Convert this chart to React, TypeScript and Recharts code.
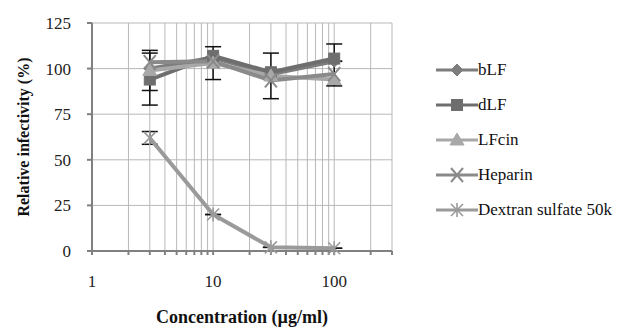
import { LineChart, Line, XAxis, YAxis, CartesianGrid, ErrorBar } from 'recharts';

const concentrations = [3, 10, 30, 100];
const bLF = [100, 106, 97, 104];
const dLF = [94, 107, 98, 105.5];
const LFcin = [99, 103, 96, 94];
const heparin = [103.5, 104, 93.5, 97];
const dextran = [62, 20, 2, 1.5];

// asymmetric error bars [minus, plus]
const bLFErr: [number, number][] = [[12, 8.5], [0, 0], [0, 0], [0, 0]];
const dLFErr: [number, number][] = [[14, 16], [13, 5], [14.5, 10.5], [15, 8]];
const dextranErr: [number, number][] = [[3.5, 3.5], [0, 0], [0, 0], [0, 0]];

const xTicks = [1, 2, 3, 4, 5, 6, 7, 8, 9, 10, 20, 30, 40, 50, 60, 70, 80, 90, 100, 200, 300];
const xLabels = [1, 10, 100];
const yTicks = [0, 25, 50, 75, 100, 125];

const data = concentrations.map((c, i) => ({
  c,
  bLF: bLF[i],
  dLF: dLF[i],
  LFcin: LFcin[i],
  heparin: heparin[i],
  dextran: dextran[i],
  bLFErr: bLFErr[i],
  dLFErr: dLFErr[i],
  dextranErr: dextranErr[i],
}));

const FONT = "'Liberation Serif', 'Times New Roman', serif";

type Shape = 'diamond' | 'square' | 'triangle' | 'x' | 'star';

function marker(shape: Shape, cx: number, cy: number, color: string, key?: string) {
  switch (shape) {
    case 'diamond':
      return <path key={key} d={`M${cx},${cy - 6} L${cx + 6},${cy} L${cx},${cy + 6} L${cx - 6},${cy} Z`} fill={color} stroke={color} />;
    case 'square':
      return <rect key={key} x={cx - 5.5} y={cy - 5.5} width={11} height={11} fill={color} stroke={color} />;
    case 'triangle':
      return <path key={key} d={`M${cx},${cy - 7} L${cx + 7},${cy + 5} L${cx - 7},${cy + 5} Z`} fill={color} stroke={color} />;
    case 'x':
      return (
        <g key={key} stroke={color} strokeWidth={2}>
          <line x1={cx - 6} y1={cy - 7} x2={cx + 6} y2={cy + 7} />
          <line x1={cx + 6} y1={cy - 7} x2={cx - 6} y2={cy + 7} />
        </g>
      );
    default:
      return (
        <g key={key} stroke={color} strokeWidth={1.6}>
          <line x1={cx - 6} y1={cy - 6} x2={cx + 6} y2={cy + 6} />
          <line x1={cx + 6} y1={cy - 6} x2={cx - 6} y2={cy + 6} />
          <line x1={cx} y1={cy - 7} x2={cx} y2={cy + 7} />
        </g>
      );
  }
}

const series: { key: string; name: string; color: string; shape: Shape; err?: string }[] = [
  { key: 'bLF', name: 'bLF', color: '#7d7d7d', shape: 'diamond', err: 'bLFErr' },
  { key: 'dLF', name: 'dLF', color: '#6e6e6e', shape: 'square', err: 'dLFErr' },
  { key: 'LFcin', name: 'LFcin', color: '#a8a8a8', shape: 'triangle' },
  { key: 'heparin', name: 'Heparin', color: '#8a8a8a', shape: 'x' },
  { key: 'dextran', name: 'Dextran sulfate 50k', color: '#9a9a9a', shape: 'star', err: 'dextranErr' },
];

function LegendBox() {
  return (
    <div style={{ position: 'absolute', left: 436, top: 52, fontFamily: FONT, fontSize: 17, color: '#111' }}>
      {series.map((s) => (
        <div key={s.key} style={{ display: 'flex', alignItems: 'center', height: 35 }}>
          <svg width={42} height={16}>
            <line x1={0} y1={8} x2={42} y2={8} stroke={s.color} strokeWidth={3} />
            {marker(s.shape, 21, 8, s.color)}
          </svg>
          <span style={{ marginLeft: 0, whiteSpace: 'nowrap' }}>{s.name}</span>
        </div>
      ))}
    </div>
  );
}

export default function App() {
  return (
    <div style={{ position: 'absolute', left: 0, top: 0, width: 628, height: 330, background: '#fff' }}>
      <LineChart width={628} height={330} data={data} margin={{ top: 23, right: 236, left: 0, bottom: 20 }}>
        <CartesianGrid stroke="#b8b8b8" strokeWidth={1} />
        <XAxis
          dataKey="c"
          type="number"
          scale="log"
          domain={[1, 300]}
          ticks={xTicks}
          allowDataOverflow
          interval={0}
          tickFormatter={(v: number) => (xLabels.includes(v) ? String(v) : '')}
          tick={{ fill: '#222', fontSize: 17, fontFamily: FONT }}
          tickSize={4}
          tickMargin={20}
          stroke="#808080"
          strokeWidth={2}
          height={59}
          label={{ value: 'Concentration (µg/ml)', position: 'insideBottom', offset: -13, fill: '#111', fontSize: 18, fontWeight: 'bold', fontFamily: FONT }}
        />
        <YAxis
          type="number"
          domain={[0, 125]}
          ticks={yTicks}
          interval={0}
          tick={{ fill: '#222', fontSize: 17, fontFamily: FONT }}
          tickSize={5}
          tickMargin={16}
          stroke="#808080"
          strokeWidth={2}
          width={92}
          label={{ value: 'Relative infectivity (%)', angle: -90, position: 'insideLeft', offset: 23, fill: '#111', fontSize: 16, fontWeight: 'bold', fontFamily: FONT, style: { textAnchor: 'middle' } }}
        />
        {series.map((s) => (
          <Line
            key={s.key}
            dataKey={s.key}
            name={s.name}
            stroke={s.color}
            strokeWidth={4}
            isAnimationActive={false}
            dot={(p: any) => marker(s.shape, p.cx, p.cy, s.color, `${s.key}-${p.index}`)}
            activeDot={false}
          >
            {s.err && <ErrorBar dataKey={s.err} direction="y" width={8} stroke="#111" strokeWidth={1.5} />}
          </Line>
        ))}
      </LineChart>
      <LegendBox />
    </div>
  );
}
